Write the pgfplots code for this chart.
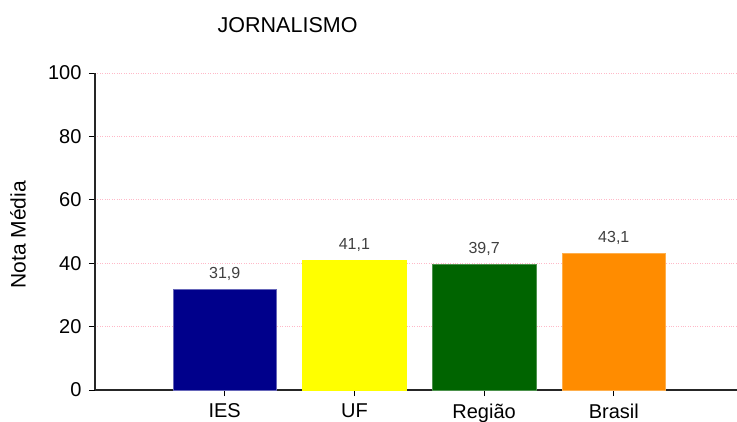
\documentclass[border=0pt]{standalone}
\usepackage{pgfplots}
\pgfplotsset{compat=1.18}
\usepackage{fontspec}
\setmainfont{Liberation Sans}
\definecolor{ies}{RGB}{0,0,139}
\definecolor{uf}{RGB}{255,255,0}
\definecolor{reg}{RGB}{0,100,0}
\definecolor{bra}{RGB}{255,140,0}
\definecolor{gridpink}{RGB}{255,185,200}
\begin{document}
\begin{tikzpicture}[x=1pt,y=1pt]
\useasboundingbox (-95,-31) rectangle (642,390);
\begin{axis}[
    at={(0,0)}, anchor=south west,
    scale only axis,
    width=642pt, height=317pt,
    xmin=0, xmax=4.95,
    ymin=0, ymax=100,
    axis x line*=bottom,
    axis y line*=left,
    axis line style={black!85, line width=1.1pt},
    xtick={1,2,3,4},
    xticklabels={IES,UF,Região,Brasil},
    ytick={0,20,40,60,80,100},
    tick align=outside,
    major tick length=6pt,
    tick style={black, line width=0.8pt},
    ymajorgrids,
    major grid style={gridpink, dotted, line width=0.8pt},
    ticklabel style={font=\fontsize{20}{22}\selectfont},
    /pgf/number format/assume math mode=true,
    xticklabel style={yshift=-4pt},
    yticklabel style={xshift=-4pt},
    ylabel={Nota Média},
    ylabel style={font=\fontsize{21}{23}\selectfont, at={(axis description cs:-0.12,0.49)}, anchor=center, rotate=0},
    bar width=0.8,
    ybar, bar shift=0pt,
    nodes near coords,
    nodes near coords style={font=\fontsize{16}{18}\selectfont, text=black!75, yshift=5pt,
        /pgf/number format/.cd, fixed, fixed zerofill, precision=1, use comma},
    clip=false,
]
\addplot[fill=ies, draw=ies!60!white] coordinates {(1,31.9)};
\addplot[fill=uf, draw=uf] coordinates {(2,41.1)};
\addplot[fill=reg, draw=reg!70!white] coordinates {(3,39.7)};
\addplot[fill=bra, draw=bra!70!white] coordinates {(4,43.1)};
\node[font=\fontsize{21.5}{23}\selectfont, anchor=center] at (rel axis cs:0.30,1.152) {JORNALISMO};
\end{axis}
\end{tikzpicture}
\end{document}
